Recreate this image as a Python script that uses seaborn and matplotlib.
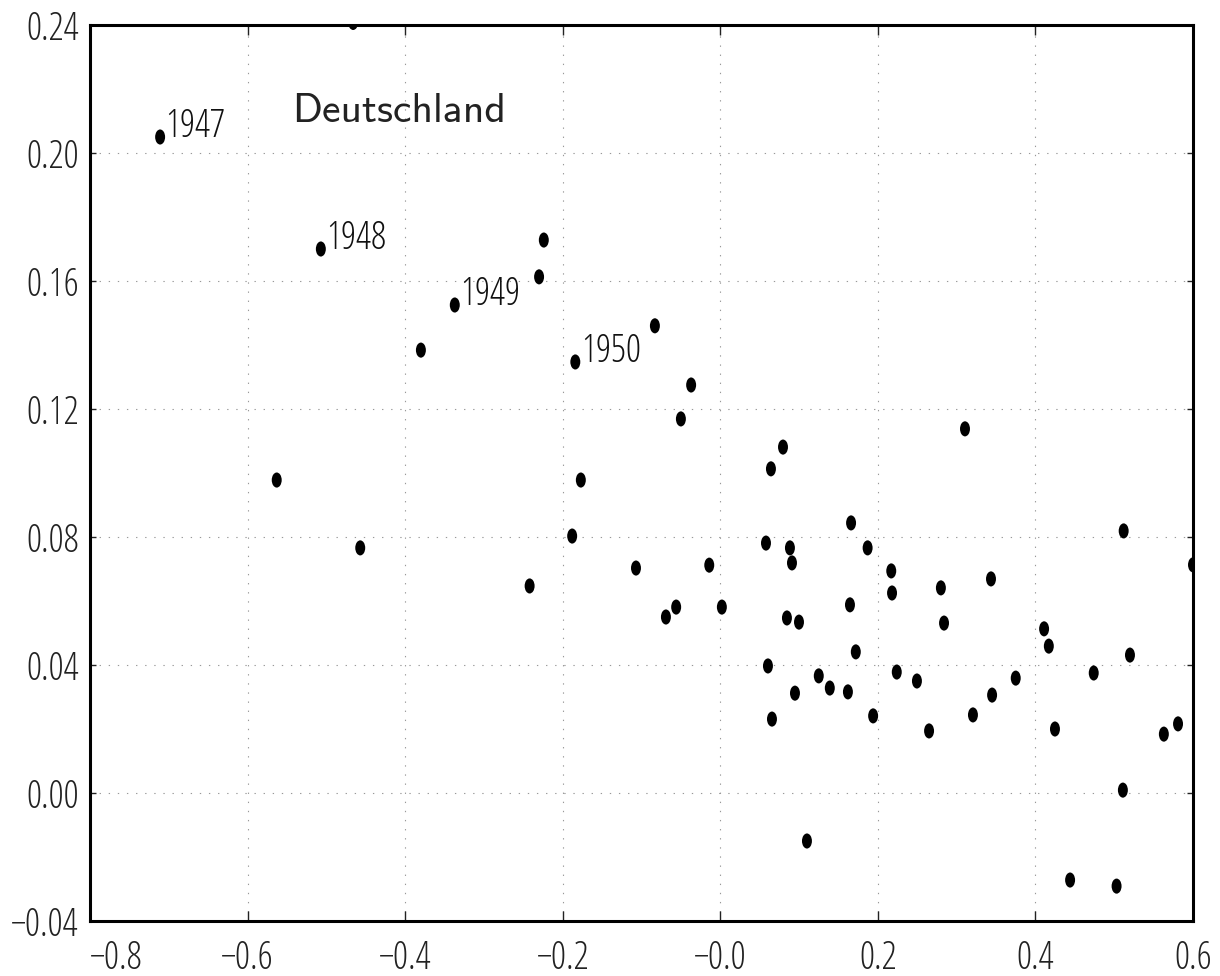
import numpy as np
import pandas as pd
import matplotlib
matplotlib.use("Agg")
import matplotlib.pyplot as plt
import matplotlib.font_manager as fm
from matplotlib.path import Path
import seaborn as sns

# ---------------- data ----------------
x_vals = [-0.711, -0.507, -0.337, -0.184, -0.466, -0.224, -0.230, -0.380, -0.083, -0.037,
          -0.050, -0.563, -0.177, -0.457, -0.188, -0.242, -0.107, -0.014, -0.069, -0.056,
          0.002, 0.0796, 0.0643, 0.166, 0.058, 0.0884, 0.091, 0.187, 0.217, 0.218,
          0.0846, 0.0999, 0.1646, 0.172, 0.0605, 0.125, 0.139, 0.162, 0.0948, 0.224,
          0.0656, 0.194, 0.3106, 0.512, 0.600, 0.280, 0.3436, 0.284, 0.411, 0.417,
          0.520, 0.474, 0.375, 0.2496, 0.345, 0.3207, 0.265, 0.4248, 0.581, 0.563,
          0.511, 0.444, 0.503, 0.110]
y_vals = [0.205, 0.170, 0.1525, 0.1347, 0.2408, 0.1728, 0.1613, 0.1384, 0.146, 0.1275,
          0.1169, 0.0978, 0.0978, 0.0766, 0.0803, 0.0647, 0.0703, 0.0712, 0.055, 0.0581,
          0.0581, 0.1081, 0.1013, 0.0844, 0.0781, 0.0766, 0.0719, 0.0766, 0.0694, 0.0625,
          0.0547, 0.0534, 0.0588, 0.0441, 0.0397, 0.0366, 0.0328, 0.0316, 0.0312, 0.0378,
          0.0231, 0.0241, 0.1138, 0.0819, 0.0713, 0.0641, 0.0669, 0.0531, 0.0513, 0.0459,
          0.0431, 0.0375, 0.0359, 0.035, 0.0306, 0.0244, 0.0194, 0.02, 0.0216, 0.0184,
          0.0009, -0.0272, -0.0291, -0.015]

year_labels = ["1947", "1948", "1949", "1950"]
year_x = [-0.711, -0.507, -0.337, -0.184]
year_y = [0.205, 0.170, 0.1525, 0.1347]

title_text = "Deutschland"
title_x = -0.5436
title_y = 0.2097

x_ticks = [-0.8, -0.6, -0.4, -0.2, 0.0, 0.2, 0.4, 0.6]
x_tick_labels = ["\u22120.8", "\u22120.6", "\u22120.4", "\u22120.2", "\u22120.0", "0.2", "0.4", "0.6"]
y_ticks = [-0.04, 0.00, 0.04, 0.08, 0.12, 0.16, 0.20, 0.24]
y_tick_labels = ["\u22120.04", "0.00", "0.04", "0.08", "0.12", "0.16", "0.20", "0.24"]

df = pd.DataFrame({"x": x_vals, "y": y_vals})

# ---------------- font choice ----------------
def pick_font():
    best, best_score = None, -1e9
    fams = ("Roboto", "DejaVu Sans", "Open Sans", "Lato", "Inter", "Noto Sans", "Liberation Sans")
    for f in fm.fontManager.ttflist:
        n = f.name
        if any(k in n for k in ("Mono", "CJK", "Serif", "Math", "Display")):
            continue
        if not any(n.startswith(k) for k in fams):
            continue
        if f.style != "normal":
            continue
        w = f.weight if isinstance(f.weight, (int, float)) else fm.weight_dict.get(f.weight, 400)
        st = str(f.stretch).lower()
        cond = ("condensed" in n.lower()) or ("narrow" in n.lower()) or ("condensed" in st)
        score = 3 * cond - abs(w - 300) / 100.0
        if score > best_score:
            best, best_score = f, score
    return best.fname if best else None

fname = pick_font()
def tick_fp(size):
    if fname:
        return fm.FontProperties(fname=fname, size=size)
    return fm.FontProperties(family="DejaVu Sans", size=size)

# ---------------- figure ----------------
sns.set_theme(style="white")
fig = plt.figure(figsize=(12.2, 9.76), dpi=100)
ax = fig.add_axes([90 / 1220, 1 - 921 / 976, (1193 - 90) / 1220, (921 - 25) / 976])

circ = Path.unit_circle()
ellipse = Path(circ.vertices * np.array([0.66, 1.0]), circ.codes)

sns.scatterplot(data=df, x="x", y="y", ax=ax, marker=ellipse, s=118,
                color="black", edgecolor="none", linewidth=0, legend=False, zorder=3)

ax.set_xlim(-0.8, 0.6)
ax.set_ylim(-0.04, 0.24)
ax.set_xlabel("")
ax.set_ylabel("")

ax.set_xticks(x_ticks)
ax.set_xticklabels(x_tick_labels)
ax.set_yticks(y_ticks)
ax.set_yticklabels(y_tick_labels)

fp = tick_fp(27)
for lbl in ax.get_xticklabels() + ax.get_yticklabels():
    lbl.set_fontproperties(fp)
    lbl.set_color("#222222")
ax.get_xticklabels()[0].set_horizontalalignment("left")

ax.tick_params(axis="x", direction="in", length=7, width=1, top=True, bottom=True,
               pad=13, colors="#222222")
ax.tick_params(axis="y", direction="in", length=4, width=1, left=True, right=True,
               pad=8, colors="#222222")

ax.grid(True, color="#999999", linewidth=0.8, linestyle=(0, (1.2, 7)))
ax.set_axisbelow(True)
for sp in ax.spines.values():
    sp.set_visible(True)
    sp.set_color("black")
    sp.set_linewidth(2.2)

for lab, xv, yv in zip(year_labels, year_x, year_y):
    ax.annotate(lab, xy=(xv, yv), xytext=(4, 0), textcoords="offset points",
                ha="left", va="baseline", fontproperties=tick_fp(27), color="#111111")

ax.text(title_x, title_y, title_text, ha="left", va="baseline",
        family="cmss10", fontsize=30, color="#222222")

fig.savefig("out.png", dpi=100)
